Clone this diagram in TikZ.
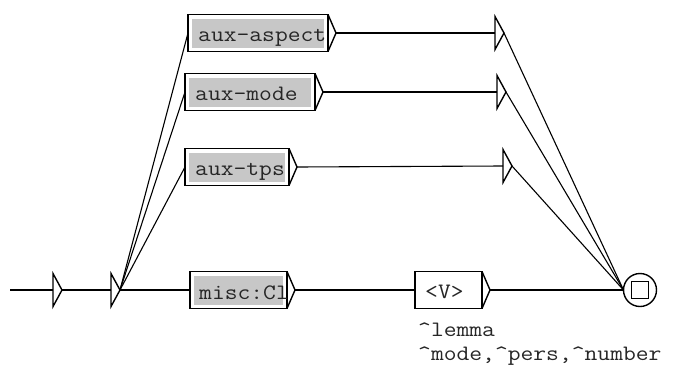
\documentclass[tikz,border=0pt]{standalone}
\usepackage{fontspec}
\setmonofont[FakeStretch=1.13]{Latin Modern Mono}

\begin{document}
\begin{tikzpicture}[x=1pt, y=-1pt,
	every node/.style={font=\fontsize{22}{24}\selectfont\ttfamily, text=black!85},
	box/.style={draw, line width=1.4pt, minimum height=37pt, inner sep=0pt, outer sep=0pt, anchor=west},
	call/.style={box, path picture={\fill[black!22] ([shift={(4pt,-4pt)}]path picture bounding box.north west) rectangle ([shift={(-4pt,4pt)}]path picture bounding box.south east);}},
	stub/.style={minimum height=33pt, minimum width=0pt, inner sep=0pt, outer sep=0pt},
	tri/.style={line width=1.4pt, line join=miter},
	link/.style={line width=1.1pt},
	txt/.style={anchor=base west, inner sep=0pt}]
	\useasboundingbox (0,0) rectangle (674,367);
	% states and boxes
	\node[stub] (init) at (53,290) {};
	\node[stub] (eps) at (111,290) {};
	\node[call, minimum width=140pt] (aspect) at (188,33) {};
	\node[call, minimum width=130pt] (mode) at (185,92) {};
	\node[call, minimum width=104pt] (tps) at (185,167) {};
	\node[call, minimum width=97pt] (misc) at (190,290) {};
	\node[box, minimum width=67pt] (verb) at (415,290) {};
	\node[stub] (join1) at (495,33) {};
	\node[stub] (join2) at (497,92) {};
	\node[stub] (join3) at (503,166) {};
	\node[circle, draw, line width=1.4pt, minimum size=33pt, inner sep=0pt, outer sep=0pt] (final) at (640,290) {};
	\node[draw, line width=1.4pt, minimum size=17pt, inner sep=0pt] (final-sq) at (final.center) {};
	% box texts
	\node[txt] (aspect-t) at ([xshift=10pt,yshift=-8.5pt]aspect.west) {aux-aspect};
	\node[txt] (mode-t) at ([xshift=10pt,yshift=-8.5pt]mode.west) {aux-mode};
	\node[txt] (tps-t) at ([xshift=10pt,yshift=-8.5pt]tps.west) {aux-tps};
	\node[txt] (misc-t) at ([xshift=9pt,yshift=-9pt]misc.west) {misc:Cl};
	\node[txt] (verb-t) at ([xshift=10pt,yshift=-8.5pt]verb.west) {<V>};
	\node[txt] (verb-o1) at (418,336) {\textasciicircum lemma};
	\node[txt] (verb-o2) at (418,360) {\textasciicircum mode,\textasciicircum pers,\textasciicircum number};
	% triangles
	\foreach \n in {init,eps,join1,join2,join3} {
		\coordinate (\n-o) at ([xshift=9pt]\n.center);
		\draw[tri] (\n.north) -- (\n.south) -- (\n-o) -- cycle;
	}
	\foreach \n in {aspect,mode,tps,misc,verb} {
		\coordinate (\n-o) at ([xshift=8pt]\n.east);
		\draw[tri] (\n.north east) -- (\n-o) -- (\n.south east);
	}
	% transitions
	\coordinate (start) at (10,290);
	\draw[link] (start) -- (init.west);
	\draw[link] (init-o) -- (eps.west);
	\foreach \n in {aspect,mode,tps,misc} \draw[link] (eps-o) -- (\n.west);
	\draw[link] (aspect-o) -- (join1.west);
	\draw[link] (mode-o) -- (join2.west);
	\draw[link] (tps-o) -- (join3.west);
	\draw[link] (misc-o) -- (verb.west);
	\foreach \n in {join1,join2,join3,verb} \draw[link] (\n-o) -- (final.west);
\end{tikzpicture}
\end{document}
